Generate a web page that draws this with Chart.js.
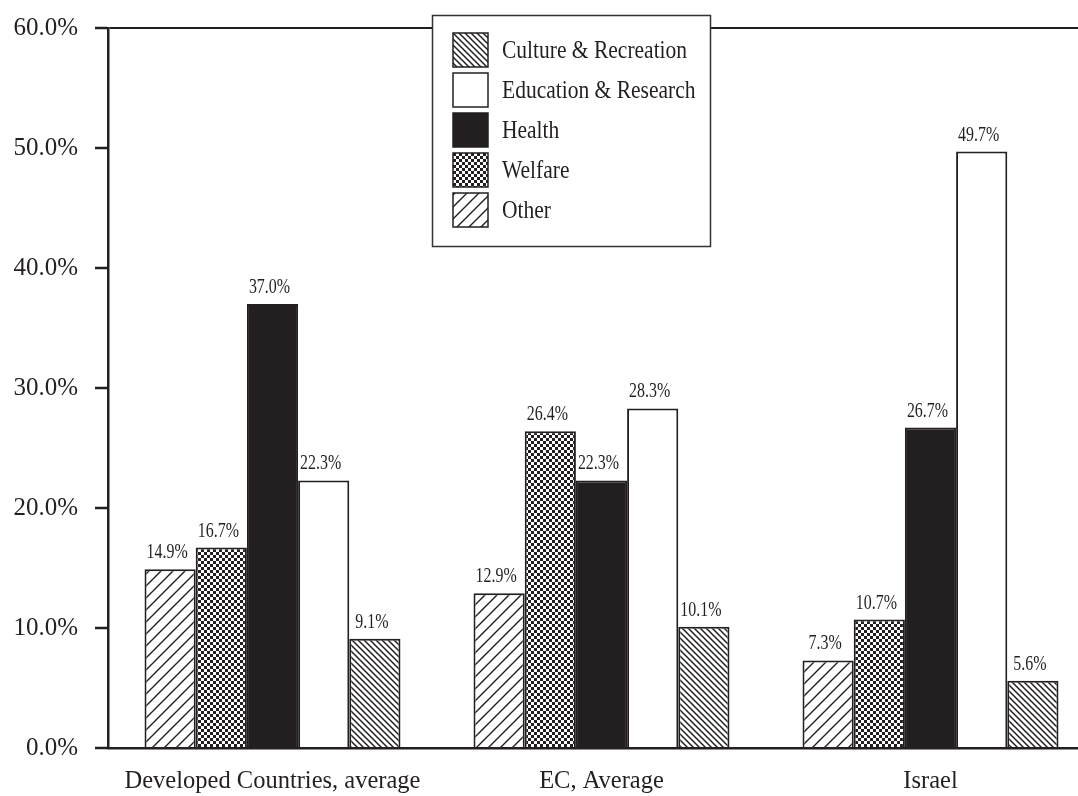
<!DOCTYPE html>
<html>
<head>
<meta charset="utf-8">
<script src="https://cdn.jsdelivr.net/npm/chart.js@4"></script>
<style>
  html, body { margin: 0; padding: 0; background: #fff; overflow: hidden; }
  #wrap { width: 1100px; height: 796px; }
</style>
</head>
<body>
<div id="wrap"><canvas id="c" width="1100" height="796"></canvas></div>
<script>
// Share of non-profit activity by field
const categories = ['Developed Countries, average', 'EC, Average', 'Israel'];
const seriesNames = ['Other', 'Welfare', 'Health', 'Education & Research', 'Culture & Recreation'];
const otherValues     = [14.9, 12.9, 7.3];
const welfareValues   = [16.7, 26.4, 10.7];
const healthValues    = [37.0, 22.3, 26.7];
const educationValues = [22.3, 28.3, 49.7];
const cultureValues   = [9.1, 10.1, 5.6];
const yTicks = [0, 10, 20, 30, 40, 50, 60];

const INK = '#231f20';
const SERIF = '"Liberation Serif", "Times New Roman", serif';

// Fill patterns
function makeTile(size, draw) {
  const t = document.createElement('canvas');
  t.width = size; t.height = size;
  const g = t.getContext('2d');
  g.fillStyle = '#fff';
  g.fillRect(0, 0, size, size);
  draw(g, size);
  return document.getElementById('c').getContext('2d').createPattern(t, 'repeat');
}
const slashFill = makeTile(12, (g, s) => {
  g.strokeStyle = INK; g.lineWidth = 1.4;
  g.beginPath();
  g.moveTo(-1, s + 1); g.lineTo(s + 1, -1);
  g.moveTo(-1, 1); g.lineTo(1, -1);
  g.moveTo(s - 1, s + 1); g.lineTo(s + 1, s - 1);
  g.stroke();
});
const backslashFill = makeTile(6, (g, s) => {
  g.strokeStyle = INK; g.lineWidth = 1.5;
  g.beginPath();
  g.moveTo(-1, -1); g.lineTo(s + 1, s + 1);
  g.moveTo(-1, s - 1); g.lineTo(1, s + 1);
  g.moveTo(s - 1, -1); g.lineTo(s + 1, 1);
  g.stroke();
});
const checkFill = makeTile(6, (g, s) => {
  g.fillStyle = INK;
  g.fillRect(0, 0, 3, 3);
  g.fillRect(3, 3, 3, 3);
});

const fills = [slashFill, checkFill, INK, '#ffffff', backslashFill];
const seriesValues = [otherValues, welfareValues, healthValues, educationValues, cultureValues];

const datasets = seriesNames.map((name, i) => ({
  label: name,
  data: seriesValues[i],
  backgroundColor: fills[i],
  borderColor: INK,
  borderWidth: 2,
  borderSkipped: 'bottom',
  barPercentage: 1.0,
  categoryPercentage: 0.778
}));

// Value labels above each bar
const valueLabels = {
  id: 'valueLabels',
  afterDatasetsDraw(chart) {
    const ctx = chart.ctx;
    ctx.save();
    ctx.fillStyle = INK;
    ctx.font = '21px ' + SERIF;
    ctx.textAlign = 'center';
    ctx.textBaseline = 'alphabetic';
    chart.data.datasets.forEach((ds, di) => {
      const meta = chart.getDatasetMeta(di);
      meta.data.forEach((bar, j) => {
        const txt = ds.data[j].toFixed(1) + '%';
        ctx.save();
        ctx.translate(bar.x - 3, bar.y - 11);
        ctx.scale(0.76, 1);
        ctx.fillText(txt, 0, 0);
        ctx.restore();
      });
    });
    ctx.restore();
  }
};

// Boxed legend floating over the plot
const boxLegend = {
  id: 'boxLegend',
  afterDraw(chart) {
    const ctx = chart.ctx;
    const x0 = 432, y0 = 15, w = 278, h = 231;
    ctx.save();
    ctx.fillStyle = '#fff';
    ctx.fillRect(x0, y0, w, h);
    ctx.strokeStyle = '#333';
    ctx.lineWidth = 1.5;
    ctx.strokeRect(x0 + 0.5, y0 + 0.5, w, h);
    const order = chart.data.datasets.slice().reverse();
    order.forEach((ds, i) => {
      const sx = 453, sy = 33 + i * 40, sw = 35, sh = 34;
      ctx.fillStyle = ds.backgroundColor;
      ctx.fillRect(sx, sy, sw, sh);
      ctx.strokeStyle = INK;
      ctx.lineWidth = 1.5;
      ctx.strokeRect(sx, sy, sw, sh);
      ctx.fillStyle = INK;
      ctx.font = '25px ' + SERIF;
      ctx.textAlign = 'left';
      ctx.textBaseline = 'middle';
      ctx.save();
      ctx.translate(502, sy + sh / 2 + 1);
      ctx.scale(0.86, 1);
      ctx.fillText(ds.label, 0, 0);
      ctx.restore();
    });
    ctx.restore();
  }
};

new Chart(document.getElementById('c'), {
  type: 'bar',
  data: { labels: categories, datasets },
  options: {
    responsive: false,
    animation: false,
    layout: { padding: { top: 28, right: 5, left: 0, bottom: 0 } },
    plugins: { legend: { display: false }, tooltip: { enabled: false } },
    scales: {
      x: {
        grid: { display: false, drawTicks: false },
        border: { display: true, color: INK, width: 2.5 },
        ticks: {
          color: INK,
          padding: 19,
          font: { family: SERIF, size: 24.5 }
        },
        afterFit(s) { s.height = 48; }
      },
      y: {
        min: 0,
        max: 60,
        afterBuildTicks(s) { s.ticks = yTicks.map(v => ({ value: v })); },
        grid: {
          drawOnChartArea: true,
          color: c => (c.tick && c.tick.value === 60 ? INK : 'rgba(0,0,0,0)'),
          lineWidth: 2,
          tickColor: INK,
          tickLength: 13,
          tickWidth: 2.5
        },
        border: { display: true, color: INK, width: 2.5 },
        ticks: {
          color: INK,
          padding: 17,
          font: { family: SERIF, size: 25 },
          callback: v => v.toFixed(1) + '%'
        },
        afterFit(s) { s.width = 108; s.paddingTop = 0; s.paddingBottom = 0; }
      }
    }
  },
  plugins: [valueLabels, boxLegend]
});
</script>
</body>
</html>
